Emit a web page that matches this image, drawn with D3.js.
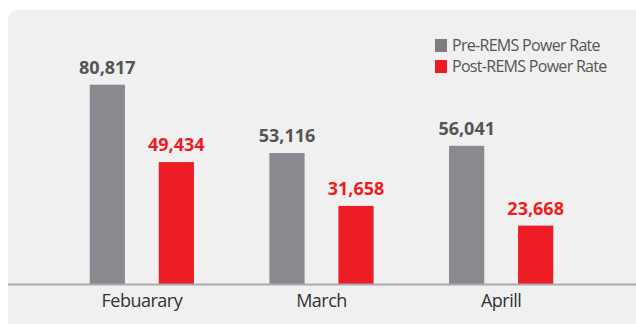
<!DOCTYPE html>
<html>
<head>
<meta charset="utf-8">
<script src="https://cdn.jsdelivr.net/npm/d3@7"></script>
<style>
  html, body { margin: 0; padding: 0; background: #ffffff; }
  svg { display: block; font-family: "Open Sans", sans-serif; }
</style>
</head>
<body>
<svg id="chart" width="636" height="324"></svg>
<script>
// Monthly power rate before and after REMS
const categories = ["Febuarary", "March", "Aprill"];
const seriesNames = ["Pre-REMS Power Rate", "Post-REMS Power Rate"];
const preValues = [80817, 53116, 56041];
const postValues = [49434, 31658, 23668];
const seriesColors = ["#8a8990", "#ed1c24"];
const swatchColors = ["#7d7a80", "#ed1c24"];
const labelColors = ["#555555", "#ed1c24"];

const rows = categories.map((c, i) => ({ category: c, values: [preValues[i], postValues[i]] }));

const width = 636, height = 324;
const baseline = 284;
const svg = d3.select("#chart");

// panel background
svg.append("rect")
  .attr("x", 8).attr("y", 10)
  .attr("width", width + 20).attr("height", height - 11 + 20)
  .attr("rx", 9)
  .attr("fill", "#eff0ef");

const x0 = d3.scaleBand()
  .domain(categories)
  .range([52, 591])
  .paddingInner(0.42)
  .paddingOuter(0.21);

const x1 = d3.scaleBand()
  .domain([0, 1])
  .range([0, x0.bandwidth()])
  .paddingInner(0.49)
  .paddingOuter(0);

const y = d3.scaleLinear()
  .domain([0, 100000])
  .range([baseline, baseline - 246.6]);

const groups = svg.append("g").selectAll("g")
  .data(rows)
  .join("g")
  .attr("transform", d => `translate(${x0(d.category)},0)`);

groups.selectAll("rect")
  .data(d => d.values.map((v, k) => ({ v, k })))
  .join("rect")
  .attr("x", d => x1(d.k))
  .attr("y", d => y(d.v))
  .attr("width", x1.bandwidth())
  .attr("height", d => y(0) - y(d.v))
  .attr("fill", d => seriesColors[d.k]);

const fmt = d3.format(",");
groups.selectAll("text.value")
  .data(d => d.values.map((v, k) => ({ v, k })))
  .join("text")
  .attr("class", "value")
  .attr("x", d => x1(d.k) + x1.bandwidth() / 2)
  .attr("y", d => y(d.v) - 11)
  .attr("text-anchor", "middle")
  .attr("font-size", 18)
  .attr("font-weight", 700)
  .attr("fill", d => labelColors[d.k])
  .text(d => fmt(d.v));

// category axis
const axis = svg.append("g")
  .attr("transform", `translate(0,${baseline})`)
  .call(d3.axisBottom(x0).tickSize(0).tickPadding(10));
axis.select(".domain").remove();
axis.append("line")
  .attr("x1", 8).attr("x2", width)
  .attr("y1", 0.5).attr("y2", 0.5)
  .attr("stroke", "#aaaaaa")
  .attr("stroke-width", 2);
axis.selectAll(".tick text")
  .attr("font-family", "Open Sans, sans-serif")
  .attr("font-size", 18)
  .attr("letter-spacing", -0.5)
  .attr("fill", "#333333")
  .attr("dy", "0.71em");

// legend
const legend = svg.append("g").attr("transform", "translate(435,39)");
const items = legend.selectAll("g")
  .data(seriesNames)
  .join("g")
  .attr("transform", (d, i) => `translate(0,${i * 21})`);
items.append("rect")
  .attr("width", 12).attr("height", 13)
  .attr("fill", (d, i) => swatchColors[i]);
items.append("text")
  .attr("x", 17).attr("y", 12)
  .attr("font-size", 16)
  .attr("letter-spacing", -0.7)
  .attr("fill", "#555555")
  .text(d => d);
</script>
</body>
</html>
